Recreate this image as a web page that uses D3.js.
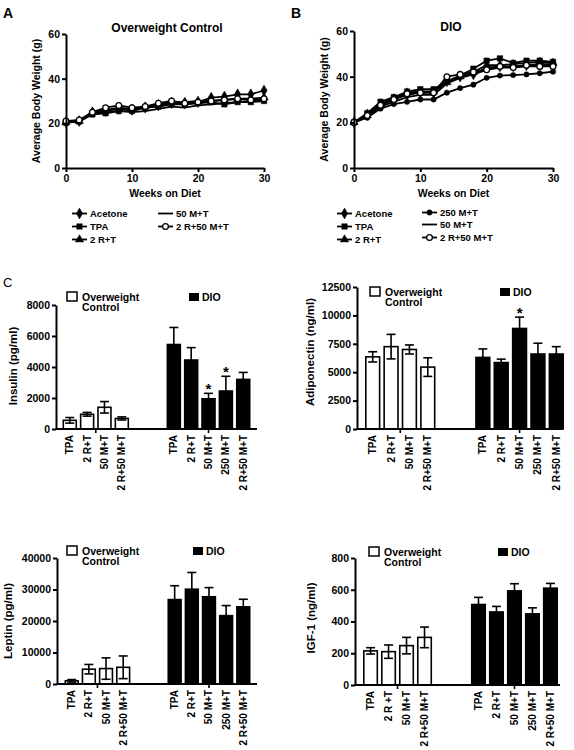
<!DOCTYPE html>
<html><head><meta charset="utf-8">
<script src="https://cdn.jsdelivr.net/npm/d3@7"></script>
<style>body{margin:0;background:#fff} svg{display:block;font-family:"Liberation Sans",Arial,sans-serif}</style>
</head><body><svg id="c" width="574" height="750"></svg>
<script>
// ---------- DATA ----------
const weeks = [0,2,4,6,8,10,12,14,16,18,20,22,24,26,28,30];
const weekTicks = [0,10,20,30];
const weightTicks = [0,20,40,60];

// Panel A: Overweight Control
const owAcetone = [20.5,21,25,25.5,26.5,26,27,28,29,29,29.5,31.5,32,33,33,34.7];
const owTPA     = [20.3,20.8,24,24.5,25.5,25.5,27,27.5,28.5,28.5,29,29.5,28.5,29.5,29.5,30];
const ow2RT     = [20.5,21,25,26,27,26.5,27.5,28.5,29.5,29.5,30,30,30.5,31,31,31.5];
const ow50MT    = [20.5,21,24.5,25,25.5,25,25.5,26.5,27.5,27,28,28.5,29,29.5,30,30.5];
const ow2R50MT  = [21,21.5,25,27,28,27,27.5,29,30,29,29.5,30,30.5,31,30.5,31];

// Panel B: DIO
const dioAcetone = [20,23.5,28,30,32,33,33,38,40,41,44,44.5,44.5,45,45.5,45.5];
const dioTPA     = [20,24,29,31,33.5,34.5,34.5,38,40.5,43.5,47,48,46,47,47,46.5];
const dio2RT     = [20,23,28,30.5,33,33.5,33.5,37.5,40,42,45,45,45.5,46,46.5,46];
const dio250MT   = [20,22,26,28,29,30,30,33,35,36.5,39.5,40.5,40.7,41,41.5,42.2];
const dio50MT    = [20,22.5,27,29,31,32,32,37,39.5,41,43,44,44,44.5,44.5,45];
const dio2R50MT  = [20,23,27.5,30,32.5,33,33,40,41,42,43,44.5,44,45,44.5,44.5];

// Panel C
const catOC  = ["TPA","2 R+T","50 M+T","2 R+50 M+T"];
const catOCigf = ["TPA","2 R +T","50 M+T","2 R+50 M+T"];
const catDIO = ["TPA","2 R+T","50 M+T","250 M+T","2 R+50 M+T"];

const insulinOC = [560,950,1400,680],      insulinOCErr = [180,120,370,100];
const insulinDIO = [5450,4450,1950,2450,3200], insulinDIOErr = [1100,800,350,950,450];
const insulinTicks = [0,2000,4000,6000,8000];
const insulinStars = [2,3];

const adipoOC = [6350,7250,7000,5450],     adipoOCErr = [450,1080,400,820];
const adipoDIO = [6300,5850,8850,6600,6600], adipoDIOErr = [750,300,1000,950,650];
const adipoTicks = [0,2500,5000,7500,10000,12500];
const adipoStars = [2];

const leptinOC = [1000,4700,4900,5300],    leptinOCErr = [400,1500,3400,3600];
const leptinDIO = [26800,30100,27700,21700,24500], leptinDIOErr = [4400,5300,2900,3200,2400];
const leptinTicks = [0,10000,20000,30000,40000];

const igfOC = [215,210,248,300],           igfOCErr = [20,42,52,65];
const igfDIO = [507,460,593,448,610],      igfDIOErr = [45,35,45,38,30];
const igfTicks = [0,200,400,600,800];

// ---------- DRAWING ----------
const svg = d3.select("#c");
const FONT_B = "bold";

function marker(g, type, x, y) {
  if (type === "none") return;
  const map = {diamond: d3.symbolDiamond, square: d3.symbolSquare, triangle: d3.symbolTriangle, circle: d3.symbolCircle, open: d3.symbolCircle, dot: d3.symbolCircle};
  const size = {diamond: 34, square: 30, triangle: 30, circle: 26, open: 26, dot: 22}[type];
  g.append("path").attr("d", d3.symbol().type(map[type]).size(size)())
    .attr("transform", `translate(${x},${y})`)
    .attr("fill", type === "open" ? "#fff" : "#000")
    .attr("stroke", "#000").attr("stroke-width", type === "open" ? 1.3 : 0.5);
}

function styleAxis(g, fs) {
  g.select(".domain").attr("stroke", "#000").attr("stroke-width", 2);
  g.selectAll(".tick line").attr("stroke", "#000").attr("stroke-width", 2);
  g.selectAll(".tick text").attr("font-size", fs).attr("font-weight", FONT_B).attr("fill", "#000");
}

function linePanel(o) {
  const x = d3.scaleLinear().domain([0,30]).range([o.x0, o.x1]);
  const y = d3.scaleLinear().domain([0,60]).range([o.yBot, o.yTop]);
  const g = svg.append("g");
  const line = d3.line().x((d,i) => x(weeks[i])).y(d => y(d));
  o.series.forEach(s => {
    g.append("path").attr("d", line(s.values)).attr("fill", "none").attr("stroke", "#000").attr("stroke-width", 1.8);
  });
  o.series.forEach(s => {
    s.values.forEach((v,i) => marker(g, s.marker, x(weeks[i]), y(v)));
  });
  const ax = g.append("g").attr("transform", `translate(0,${o.yBot})`)
    .call(d3.axisBottom(x).tickValues(weekTicks).tickSize(4).tickSizeOuter(0).tickPadding(3));
  styleAxis(ax, 10.5);
  const ay = g.append("g").attr("transform", `translate(${o.x0},0)`)
    .call(d3.axisLeft(y).tickValues(weightTicks).tickSize(4).tickSizeOuter(0).tickPadding(2));
  styleAxis(ay, 10.5);
  g.append("text").attr("x", o.titleX).attr("y", o.titleY).attr("text-anchor","middle")
    .attr("font-size", 12).attr("font-weight", FONT_B).text(o.title);
  g.append("text").attr("x", (o.x0+o.x1)/2).attr("y", o.yBot+29).attr("text-anchor","middle")
    .attr("font-size", 10.5).attr("font-weight", FONT_B).text("Weeks on Diet");
  g.append("text").attr("transform", `translate(${o.x0-26},${(o.yTop+o.yBot)/2}) rotate(-90)`)
    .attr("text-anchor","middle").attr("font-size", 10.5).attr("font-weight", FONT_B).text("Average Body Weight (g)");
  g.append("text").attr("x", o.letterX).attr("y", 18).attr("font-size", 14).attr("font-weight", FONT_B).text(o.letter);
  // legend
  o.legend.forEach(l => {
    const lg = svg.append("g");
    lg.append("line").attr("x1", l.x).attr("x2", l.x+15).attr("y1", l.y-3.5).attr("y2", l.y-3.5)
      .attr("stroke","#000").attr("stroke-width",1.8);
    marker(lg, l.marker, l.x+7.5, l.y-3.5);
    lg.append("text").attr("x", l.x+18).attr("y", l.y).attr("font-size", 9.5).attr("font-weight", FONT_B).text(l.name);
  });
}

linePanel({
  x0: 66, x1: 264, yTop: 34, yBot: 168, title: "Overweight Control", titleX: 167, titleY: 32, letter: "A", letterX: 3,
  series: [
    {name:"Acetone", values: owAcetone, marker:"diamond"},
    {name:"TPA", values: owTPA, marker:"square"},
    {name:"2 R+T", values: ow2RT, marker:"triangle"},
    {name:"50 M+T", values: ow50MT, marker:"none"},
    {name:"2 R+50 M+T", values: ow2R50MT, marker:"open"}
  ],
  legend: [
    {name:"Acetone", marker:"diamond", x:72, y:217},
    {name:"TPA", marker:"square", x:72, y:230},
    {name:"2 R+T", marker:"triangle", x:72, y:243},
    {name:"50 M+T", marker:"none", x:158, y:217},
    {name:"2 R+50 M+T", marker:"open", x:158, y:230}
  ]
});

linePanel({
  x0: 354, x1: 553, yTop: 31, yBot: 168, title: "DIO", titleX: 451, titleY: 31, letter: "B", letterX: 291,
  series: [
    {name:"Acetone", values: dioAcetone, marker:"diamond"},
    {name:"TPA", values: dioTPA, marker:"square"},
    {name:"2 R+T", values: dio2RT, marker:"triangle"},
    {name:"250 M+T", values: dio250MT, marker:"dot"},
    {name:"50 M+T", values: dio50MT, marker:"none"},
    {name:"2 R+50 M+T", values: dio2R50MT, marker:"open"}
  ],
  legend: [
    {name:"Acetone", marker:"diamond", x:337, y:217},
    {name:"TPA", marker:"square", x:337, y:230},
    {name:"2 R+T", marker:"triangle", x:337, y:243},
    {name:"250 M+T", marker:"dot", x:422, y:216},
    {name:"50 M+T", marker:"none", x:422, y:228},
    {name:"2 R+50 M+T", marker:"open", x:422, y:241}
  ]
});

svg.append("text").attr("x", 3).attr("y", 287).attr("font-size", 13).text("C");

function barPanel(o) {
  const keys = o.catOC.map(c => "OC|"+c).concat(["gap1","gap2"]).concat(o.catDIO.map(c => "DIO|"+c));
  const x = d3.scaleBand().domain(keys).range(o.band).paddingInner(0.16).paddingOuter(0);
  const y = d3.scaleLinear().domain([0, o.ticks[o.ticks.length-1]]).range([o.yBot, o.yTop]);
  const g = svg.append("g");
  const rows = o.catOC.map((c,i) => ({k:"OC|"+c, v:o.oc[i], e:o.ocErr[i], fill:"#fff"}))
    .concat(o.catDIO.map((c,i) => ({k:"DIO|"+c, v:o.dio[i], e:o.dioErr[i], fill:"#000"})));
  const bw = x.bandwidth();
  rows.forEach(r => {
    const cx = x(r.k) + bw/2;
    g.append("line").attr("x1", cx).attr("x2", cx).attr("y1", y(r.v - r.e)).attr("y2", y(r.v + r.e))
      .attr("stroke", "#000").attr("stroke-width", 1.6);
    g.append("line").attr("x1", cx-4.5).attr("x2", cx+4.5).attr("y1", y(r.v + r.e)).attr("y2", y(r.v + r.e))
      .attr("stroke", "#000").attr("stroke-width", 1.6);
    if (r.fill === "#fff")
      g.append("line").attr("x1", cx-4.5).attr("x2", cx+4.5).attr("y1", y(r.v - r.e)).attr("y2", y(r.v - r.e))
        .attr("stroke", "#000").attr("stroke-width", 1.6);
  });
  rows.forEach(r => {
    g.append("rect").attr("x", x(r.k)+0.8).attr("y", y(r.v)).attr("width", bw-1.6).attr("height", y(0)-y(r.v))
      .attr("fill", r.fill === "#fff" ? "none" : "#000").attr("stroke", "#000").attr("stroke-width", 1.6);
  });
  (o.stars || []).forEach(i => {
    const k = "DIO|"+o.catDIO[i];
    g.append("text").attr("x", x(k)+bw/2).attr("y", y(o.dio[i]+o.dioErr[i]) + 0.5).attr("text-anchor","middle")
      .attr("font-size", 15).attr("font-weight", FONT_B).text("*");
  });
  // axes
  g.append("line").attr("x1", o.x0).attr("x2", o.xEnd).attr("y1", o.yBot).attr("y2", o.yBot)
    .attr("stroke","#000").attr("stroke-width",2);
  const midOC = (x("OC|"+o.catOC[1]) + bw + x("OC|"+o.catOC[2]))/2;
  const midDIO = x("DIO|"+o.catDIO[2]) + bw/2;
  [midOC, midDIO].forEach(m => g.append("line").attr("x1", m).attr("x2", m).attr("y1", o.yBot).attr("y2", o.yBot+4)
    .attr("stroke","#000").attr("stroke-width",1.6));
  const ay = g.append("g").attr("transform", `translate(${o.x0},0)`)
    .call(d3.axisLeft(y).tickValues(o.ticks).tickFormat(d3.format("d")).tickSize(4).tickSizeOuter(0).tickPadding(2));
  styleAxis(ay, 10.5);
  rows.forEach(r => {
    g.append("text").attr("transform", `translate(${x(r.k)+bw/2+3.5},${o.yBot+6}) rotate(-90)`)
      .attr("text-anchor","end").attr("font-size", 10).attr("font-weight", FONT_B).text(r.k.split("|")[1]);
  });
  g.append("text").attr("transform", `translate(${o.labelX},${o.labelY}) rotate(-90)`)
    .attr("text-anchor","middle").attr("font-size", 11.5).attr("font-weight", FONT_B).text(o.label);
  // legend
  const L = o.leg;
  g.append("rect").attr("x", L.x).attr("y", L.y).attr("width", 10).attr("height", 9)
    .attr("fill","#fff").attr("stroke","#000").attr("stroke-width",1.5);
  g.append("text").attr("x", L.x+15).attr("y", L.y+8.5).attr("font-size", 10.5).attr("font-weight", FONT_B).text("Overweight");
  g.append("text").attr("x", L.x+15).attr("y", L.y+19).attr("font-size", 10.5).attr("font-weight", FONT_B).text("Control");
  g.append("rect").attr("x", L.dx).attr("y", L.y+1).attr("width", 10).attr("height", 8).attr("fill","#000");
  g.append("text").attr("x", L.dx+13).attr("y", L.y+9).attr("font-size", 10.5).attr("font-weight", FONT_B).text("DIO");
}

barPanel({label:"Insulin (pg/ml)", labelX:17, labelY:366, x0:56, xEnd:257, band:[62.5,250.5], yTop:305, yBot:429,
  ticks: insulinTicks, catOC: catOC, catDIO: catDIO, oc: insulinOC, ocErr: insulinOCErr, dio: insulinDIO, dioErr: insulinDIOErr,
  stars: insulinStars, leg:{x:67, y:292, dx:189}});
barPanel({label:"Adiponectin (ng/ml)", labelX:314, labelY:352, x0:357, xEnd:562, band:[365,564], yTop:287, yBot:429,
  ticks: adipoTicks, catOC: catOC, catDIO: catDIO, oc: adipoOC, ocErr: adipoOCErr, dio: adipoDIO, dioErr: adipoDIOErr,
  stars: adipoStars, leg:{x:370, y:287, dx:500}});
barPanel({label:"Leptin (pg/ml)", labelX:12, labelY:621, x0:57, xEnd:257, band:[64.5,250.5], yTop:558, yBot:684,
  ticks: leptinTicks, catOC: catOC, catDIO: catDIO, oc: leptinOC, ocErr: leptinOCErr, dio: leptinDIO, dioErr: leptinDIOErr,
  stars: [], leg:{x:67, y:546, dx:193}});
barPanel({label:"IGF-1 (ng/ml)", labelX:315, labelY:618, x0:355, xEnd:560, band:[363,558], yTop:558, yBot:685,
  ticks: igfTicks, catOC: catOCigf, catDIO: catDIO, oc: igfOC, ocErr: igfOCErr, dio: igfDIO, dioErr: igfDIOErr,
  stars: [], leg:{x:369, y:547, dx:498}});
</script></body></html>
